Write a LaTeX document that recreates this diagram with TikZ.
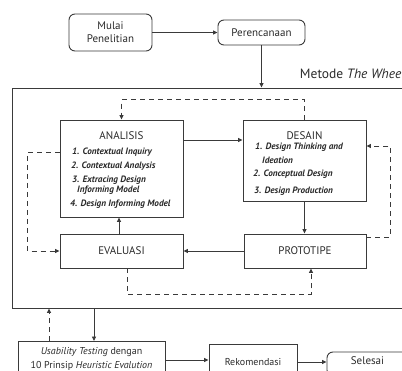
\documentclass[tikz,border=0pt]{standalone}
\usepackage{fontspec}
\setmainfont{PT Sans}
\usetikzlibrary{arrows.meta,calc}
\definecolor{ln}{HTML}{3A3A3A}
\definecolor{tx}{HTML}{2A2A2A}
\tikzset{
  box/.style={draw=ln,line width=0.9pt,rectangle,inner sep=0pt},
  rbox/.style={box,rounded corners=6pt},
  ttl/.style={text=tx,font=\fontsize{11}{13}\selectfont,inner sep=0pt},
  item/.style={text=tx,font=\fontsize{9.2}{11}\selectfont\bfseries\itshape,inner sep=0pt,anchor=west},
  arr/.style={draw=ln,line width=0.9pt,-{Triangle[length=4.5pt,width=4pt]}},
  darr/.style={draw=ln,line width=0.9pt,dash pattern=on 5pt off 4pt,-{Triangle[length=4.5pt,width=4pt]}},
}
\begin{document}
\begin{tikzpicture}[x=1pt,y=-1pt]
\useasboundingbox (0,0) rectangle (402,371);
\clip (0,0) rectangle (402,371);
% top nodes
\node[rbox,minimum width=83pt,minimum height=37pt,align=center,ttl,draw=ln] (mulai) at (110.5,32.5) {Mulai\\Penelitian};
\node[rbox,minimum width=87pt,minimum height=25pt,ttl,draw=ln] (renc) at (261.5,32.5) {Perencanaan};
\node[text=tx,font=\fontsize{13.5}{15}\selectfont,anchor=base east,inner sep=0pt] (metode) at (401.5,79) {Metode \textit{The Whee}};
% frame
\node[box,minimum width=420pt,minimum height=220pt] (frame) at (222,198) {};
% inner boxes
\node[box,minimum width=123pt,minimum height=97pt] (analisis) at (121.5,168.5) {};
\node[box,minimum width=123pt,minimum height=81pt] (desain) at (304.5,160.5) {};
\node[box,minimum width=123pt,minimum height=34pt,ttl,draw=ln] (evaluasi) at (121.5,251) {EVALUASI};
\node[box,minimum width=122pt,minimum height=34pt,ttl,draw=ln] (prototipe) at (305,251) {PROTOTIPE};
% texts in analisis
\node[ttl] (antitle) at (121.5,136) {ANALISIS};
\node[item] (a1) at (72,152) {1. Contextual Inquiry};
\node[item] (a2) at (71,166) {2. Contextual Analysis};
\node[item] (a3) at (72,180) {3. Extracing Design};
\node[item] (a3b) at (77,190.5) {Informing Model};
\node[item] (a4) at (70,204.5) {4. Design Informing Model};
% texts in desain
\node[ttl] (detitle) at (304.5,136) {DESAIN};
\node[item] (d1) at (255,147.5) {1. Design Thinking and};
\node[item] (d1b) at (262,160) {Ideation};
\node[item] (d2) at (253,174) {2. Conceptual Design};
\node[item] (d3) at (254,191) {3. Design Production};
% bottom nodes
\node[box,minimum width=147pt,minimum height=34pt,align=center,text=tx,font=\fontsize{10}{14}\selectfont] (usab) at (91.5,358.5) {\textit{Usability Testing} dengan\\10 Prinsip \textit{Heuristic Evalution}};
\node[box,minimum width=88pt,minimum height=36pt,text=tx,font=\fontsize{10}{12}\selectfont] (rekom) at (253,362) {Rekomendasi};
\node[rbox,minimum width=100pt,minimum height=24pt] (selesai) at (377,364) {};
\node[ttl] (seltxt) at (367.5,361) {Selesai};
% connectors
\draw[arr] (mulai) -- (renc);
\draw[arr] (renc.south) -- (renc.south |- frame.north);
\draw[arr] (analisis.east |- 0,140) -- (desain.west |- 0,140);
\draw[arr] (desain.south) -- (desain.south |- prototipe.north);
\draw[arr] (prototipe.west) -- (evaluasi.east);
\draw[arr] (evaluasi.north -| 119,0) -- (analisis.south -| 119,0);
% dashed loops
\draw[darr] (desain.north) -- ++(0,-20) -| (analisis.north);
\draw[darr] (analisis.west |- 0,152) -- ++(-32,0) |- (evaluasi.west);
\draw[darr] (prototipe.east |- 0,237) -- ++(24,0) |- (desain.east |- 0,146);
\draw[darr] (evaluasi.south -| 127,0) -- ++(0,26) -| (prototipe.south -| 311,0);
% below frame
\draw[arr] (frame.south -| 94,0) -- (usab.north -| 94,0);
\draw[darr] (usab.north -| 49,0) -- (frame.south -| 49,0);
\draw[arr] (usab.east |- 0,360) -- (rekom.west |- 0,360);
\draw[arr] (rekom.east |- 0,362) -- (selesai.west |- 0,362);
\end{tikzpicture}
\end{document}
